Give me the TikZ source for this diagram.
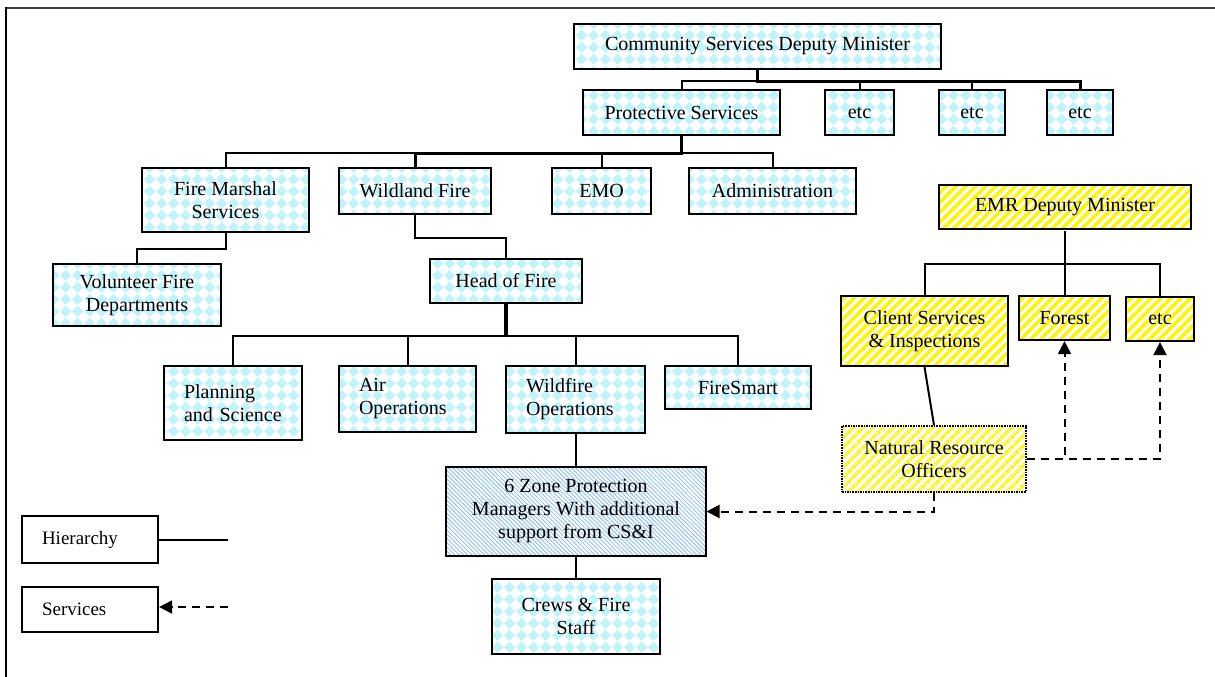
\documentclass[tikz,border=0pt]{standalone}
\usepackage{fontspec}
\setmainfont{Liberation Serif}
\usetikzlibrary{patterns,patterns.meta,arrows.meta,calc}
\definecolor{cyanp}{RGB}{192,244,250}
\definecolor{yel}{RGB}{255,245,0}
\definecolor{hatchb}{RGB}{150,195,240}
\pgfdeclarepatternformonly{diamonds}{\pgfpointorigin}{\pgfqpoint{12pt}{12pt}}{\pgfqpoint{12pt}{12pt}}{%
  \pgfpathmoveto{\pgfqpoint{6pt}{0pt}}%
  \pgfpathlineto{\pgfqpoint{12pt}{6pt}}%
  \pgfpathlineto{\pgfqpoint{6pt}{12pt}}%
  \pgfpathlineto{\pgfqpoint{0pt}{6pt}}%
  \pgfpathclose\pgfusepath{fill}}
\tikzset{
  box/.style={draw, line width=2.2pt, inner sep=0pt, font=\fontsize{20}{23}\selectfont, align=center, preaction={fill=white}},
  cbox/.style={box, pattern=diamonds, pattern color=cyanp},
  ybox/.style={box, pattern={Lines[angle=45,distance=7pt,line width=3.6pt]}, pattern color=yel},
  zbox/.style={box, pattern={Lines[angle=-45,distance=3pt,line width=1pt]}, pattern color=hatchb},
  lbox/.style={draw, line width=2.2pt, inner sep=0pt, font=\fontsize{19}{22}\selectfont, align=left},
  conn/.style={line width=2pt},
  bus/.style={line width=3pt},
  svc/.style={line width=2pt, dash pattern=on 8pt off 6pt, -{Triangle[length=13pt,width=13pt]}},
}
\begin{document}
\begin{tikzpicture}[x=1pt,y=-1pt]
\useasboundingbox (0,0) rectangle (1215,677);
% frame
\draw[line width=2pt, black!75] (6,8) -- (1215,8);
\draw[line width=2.4pt] (6,677) -- (6,7);

% boxes
\node[cbox, minimum width=367, minimum height=45] (csdm) at (757.5,46.5) {Community Services Deputy Minister};
\node[cbox, minimum width=197, minimum height=45] (ps) at (681.5,112.5) {Protective Services};
\node[cbox, minimum width=69, minimum height=45] (etcA) at (859.5,112.5) {etc};
\node[cbox, minimum width=66, minimum height=45] (etcB) at (972,112.5) {etc};
\node[cbox, minimum width=66, minimum height=45] (etcC) at (1080,112.5) {etc};

\node[cbox, minimum width=167, minimum height=64] (fm) at (225.5,200) {Fire Marshal\\Services};
\node[cbox, minimum width=152, minimum height=46] (wf) at (415,191) {Wildland Fire};
\node[cbox, minimum width=99, minimum height=46] (emo) at (601.5,191) {EMO};
\node[cbox, minimum width=167, minimum height=46] (adm) at (772.5,191) {Administration};

\node[cbox, minimum width=168, minimum height=62] (vol) at (137,295) {Volunteer Fire\\Departments};
\node[cbox, minimum width=152, minimum height=44] (hof) at (506,281) {Head of Fire};

\node[cbox, minimum width=138, minimum height=74, text width=98, align=left] (pls) at (233,403) {Planning\\and Science};
\node[cbox, minimum width=137, minimum height=66, text width=97, align=left] (air) at (407.5,399) {Air\\Operations};
\node[cbox, minimum width=139, minimum height=67, text width=99, align=left] (wfo) at (575.5,399.5) {Wildfire\\Operations};
\node[cbox, minimum width=146, minimum height=43] (fsm) at (738,387.5) {FireSmart};

\node[zbox, minimum width=260, minimum height=89] (zone) at (576,511.5) {6 Zone Protection\\Managers With additional\\support from CS\&I};
\node[cbox, minimum width=168, minimum height=75] (crew) at (576,616.5) {Crews \& Fire\\Staff};

\node[ybox, minimum width=252, minimum height=44] (emr) at (1065,207) {EMR Deputy Minister};
\node[ybox, minimum width=167, minimum height=70] (csi) at (924.5,331) {Client Services\\\& Inspections};
\node[ybox, minimum width=91, minimum height=44] (for) at (1064.5,318) {Forest};
\node[ybox, minimum width=68, minimum height=44] (etcE) at (1160,319) {etc};
\node[ybox, line width=1.6pt, densely dotted, minimum width=184, minimum height=66] (nro) at (934,459) {Natural Resource\\Officers};

% legend
\node[lbox, minimum width=136, minimum height=47, text width=96] (hier) at (90,539.5) {Hierarchy};
\node[lbox, minimum width=136, minimum height=45, text width=96] (serv) at (90,609.5) {Services};
\coordinate (hl) at (228,539.5);
\coordinate (sl) at (228,607);
\draw[conn] (hier.east) -- (hl);
\draw[svc] (sl) -- (serv.east |- sl);

% hierarchy connectors
\draw[bus] (csdm.south) -- ++(0,11) -| (etcC.north);
\draw[conn] (csdm.south) ++(0,11) -| (ps.north);
\draw[conn] (csdm.south) ++(0,11) -| (etcA.north);
\draw[conn] (csdm.south) ++(0,11) -| (etcB.north);
\draw[conn] (csdm.south) ++(0,11) -| (etcC.north);
\draw[line width=3.5pt] (csdm.south) -- ++(0,11);

\draw[bus] (ps.south) -- ++(0,17) -| (wf.north);
\draw[conn] (ps.south) ++(0,17) -| (fm.north);
\draw[conn] (ps.south) ++(0,17) -| (emo.north);
\draw[conn] (ps.south) ++(0,17) -| (adm.north);
\draw[conn] (ps.south) ++(0,17) -| (wf.north);
\draw[line width=3.5pt] (ps.south) -- ++(0,17);

\draw[conn] (fm.south) -- ++(0,16) -| (vol.north);
\draw[conn] (wf.south) -- ++(0,23) -| (hof.north);

\draw[line width=3.5pt] (hof.south) -- ++(0,32);
\draw[conn] (hof.south) ++(0,32) -| (pls.north);
\draw[conn] (hof.south) ++(0,32) -| (air.north);
\draw[conn] (hof.south) ++(0,32) -| (wfo.north);
\draw[conn] (hof.south) ++(0,32) -| (fsm.north);

\draw[conn] (wfo.south) -- (wfo.south |- zone.north);
\draw[conn] (zone.south) -- (crew.north);

\draw[conn] (emr.south) -- ++(0,33) -| (csi.north);
\draw[conn] (emr.south) ++(0,33) -| (for.north);
\draw[conn] (emr.south) ++(0,33) -| (etcE.north);
\draw[conn] (csi.south) -- (nro.north);

% service connectors
\draw[svc] (nro.south) |- (zone.east);
\draw[svc] (nro.east) -| (for.south);
\draw[svc] (nro.east) -| (etcE.south);
\end{tikzpicture}
\end{document}
